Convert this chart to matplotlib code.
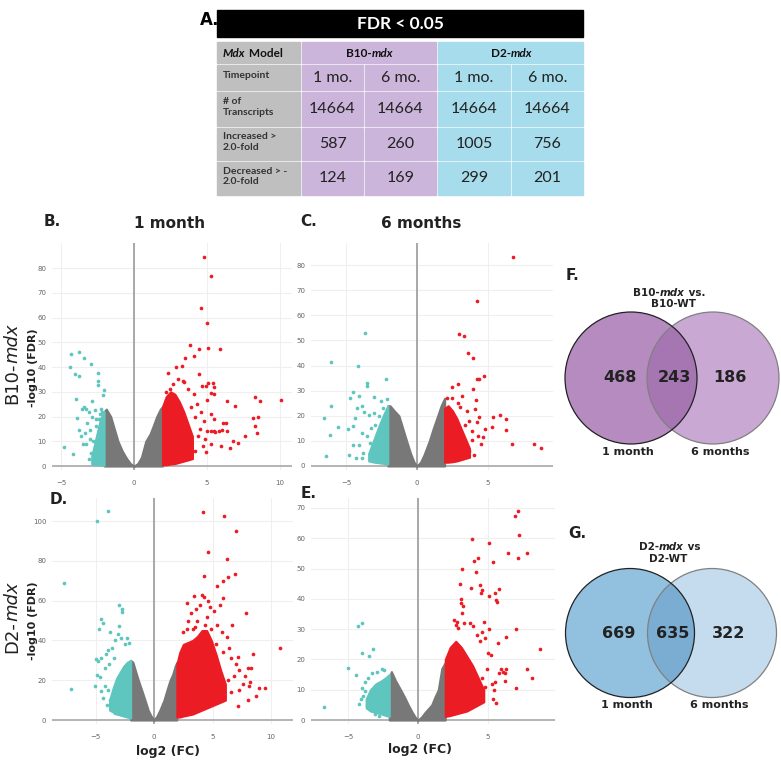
import matplotlib.pyplot as plt
from matplotlib.patches import Rectangle, Circle

W, H = 781, 767

# ================== DATA ==================

# panel A table
TABLE_TITLE = "FDR < 0.05"
TIMEPOINTS = ["1 mo.", "6 mo.", "1 mo.", "6 mo."]
ROW_LABELS = ["Timepoint", "# of\nTranscripts", "Increased >\n2.0-fold", "Decreased > -\n2.0-fold"]
N_TRANSCRIPTS = [14664, 14664, 14664, 14664]
N_INCREASED = [587, 260, 1005, 756]
N_DECREASED = [124, 169, 299, 201]

# venn counts: only 1 month, both, only 6 months
VENN_B10 = [468, 243, 186]
VENN_D2 = [669, 635, 322]

# volcano B: B10-mdx, 1 month
B_GRAY_X = [-2.05, -1.9, -1.6, -1.3, -1.1, -0.8, -0.5, -0.25, 0, 0.25, 0.5, 0.8, 1.1, 1.3, 1.55, 1.8, 1.95]
B_GRAY_TOP = [22, 23, 20, 14, 10, 6, 3, 1, 0, 1, 3.5, 10, 13, 16, 20, 23, 24]
B_TEAL_CORE_X = [-2.9, -2.7, -2.5, -2.3, -2.05]
B_TEAL_CORE_TOP = [4, 9, 14, 19, 22]
B_TEAL_CORE_BOT = [0.8, 0.6, 0.5, 0.4, 0.3]
B_RED_CORE_X = [1.95, 2.2, 2.5, 2.8, 3.1, 3.4, 3.7, 4.0]
B_RED_CORE_TOP = [24, 28, 30, 29, 26, 22, 17, 12]
B_RED_CORE_BOT = [0.5, 0.5, 0.8, 1.0, 1.5, 2.0, 2.5, 3.0]
B_TEAL_X = [-4.34, -3.75, -3.45, -4.38, -2.97, -4.02, -3.79, -2.47, -2.44, -2.49, -2.08, -2.1, -3.95, -2.88,
            -3.4, -3.55, -3.3, -3.93, -3.1, -2.9, -2.6, -2.4, -3.8, -3.6, -3.35, -2.6, -2.3, -3.0, -2.8,
            -4.77, -4.2, -3.3, -2.93, -2.7, -3.1, -2.25, -2.2, -2.35, -3.2, -2.7, -3.5, -3.05, -2.5]
B_TEAL_Y = [45.4, 45.9, 43.5, 40.1, 41.2, 37.2, 36.4, 37.6, 34.2, 32.7, 30.7, 28.5, 27.1, 26.1,
            24, 23, 23, 19.5, 22, 20, 19, 19, 14.5, 12.1, 13.5, 16, 15, 11, 10,
            7.8, 4.7, 8.8, 5.3, 6.5, 3, 23, 22, 21, 17.5, 22.5, 9, 14.5, 12]
B_RED_X = [4.8, 5.25, 4.6, 5.0, 3.8, 4.47, 5.07, 5.9, 3.5, 4.1, 2.85, 3.3, 2.35, 4.43, 3.33, 3.45, 5.07,
           5.43, 4.66, 4.9, 5.45, 2.49, 5.25, 5.45, 5.0, 6.37, 8.27, 8.65, 10.05, 6.94, 8.15, 8.5, 8.3,
           8.4, 6.3, 6.0, 5.0, 5.25, 5.5, 5.8, 6.4, 7.6, 7.1, 6.76, 4.86, 6.57, 5.96, 5.27, 4.9, 3.6,
           4.3, 4.6, 4.2, 4.8, 4.5, 3.9, 4.1, 3.7, 2.7, 3.0, 2.2, 4.4, 4.7, 4.2, 5.3, 5.5, 5.55, 6.07]
B_RED_Y = [84.6, 76.8, 63.7, 57.9, 49, 47.4, 47.5, 47.3, 43.8, 44.6, 40, 40.4, 37.6, 37.3, 34.2, 34, 33.7,
           33.4, 32.3, 32.3, 32, 31.2, 29.4, 29.2, 26.7, 26.1, 27.7, 26.1, 26.5, 24.1, 19.3, 19.8, 16,
           13.3, 17.5, 14.4, 14, 14.2, 14, 14.3, 14, 12, 9.4, 10.2, 10.9, 7.1, 8.1, 8.9, 5.8, 2.7,
           25, 22, 20, 18, 15, 24, 29, 31, 33, 35, 30, 12, 8, 6, 21, 19, 13.9, 17.5]

# volcano C: B10-mdx, 6 months
C_GRAY_X = [-2.05, -1.9, -1.6, -1.27, -1.0, -0.73, -0.45, -0.2, 0, 0.25, 0.5, 0.87, 1.15, 1.46, 1.7, 1.95]
C_GRAY_TOP = [24, 24, 22, 20, 15, 10, 5, 1.5, 0, 1.5, 4.5, 10, 15, 20, 24, 27]
C_TEAL_CORE_X = [-3.4, -3.0, -2.6, -2.3, -2.05]
C_TEAL_CORE_TOP = [5, 11, 17, 21, 24]
C_TEAL_CORE_BOT = [2.0, 1.5, 1.2, 1.0, 0.8]
C_RED_CORE_X = [1.95, 2.2, 2.5, 2.8, 3.1, 3.4, 3.7]
C_RED_CORE_TOP = [23, 24, 22, 19, 15, 11, 7]
C_RED_CORE_BOT = [1.5, 1.5, 1.7, 2, 2.5, 3, 3.5]
C_TEAL_X = [-3.66, -6.08, -4.15, -3.5, -3.55, -2.18, -4.53, -4.08, -6.08, -4.7, -3.0, -2.5, -2.1, -6.57,
            -5.54, -6.13, -4.88, -4.53, -4.35, -4.2, -3.85, -3.7, -3.35, -3.0, -2.7, -2.4, -4.53, -4.08,
            -3.85, -3.55, -3.25, -2.95, -6.43, -4.79, -4.3, -3.9, -3.8, -3.3, -2.8, -2.4]
C_TEAL_Y = [53.1, 41.3, 40, 33, 32, 34.7, 29.5, 27.9, 24, 27, 27.5, 26, 26.5, 19,
            15.4, 12.2, 14.6, 16, 19, 23, 24, 21.5, 20.5, 21, 20, 23, 8.5, 8.3,
            13, 12, 15, 16.5, 4.0, 4.4, 3.3, 3.2, 5.3, 9, 12, 16]
C_RED_X = [6.76, 4.25, 2.96, 3.31, 3.59, 3.92, 4.72, 4.25, 4.4, 2.44, 2.91, 3.97, 2.1, 2.5, 3.2, 2.9,
           4.13, 5.33, 5.85, 6.27, 6.3, 5.26, 4.79, 6.71, 8.24, 8.71, 4.5, 4.62, 4.2, 4.4, 3.7, 3.5,
           3.9, 4.3, 3.9, 3.4, 3.0, 4.1, 3.7, 4.0]
C_RED_Y = [83.4, 65.9, 52.5, 51.8, 45.1, 43, 35.9, 34.7, 34.7, 31.4, 32.7, 30.6, 27.2, 27, 28, 25,
           26.2, 19.6, 20.3, 18.6, 14.3, 15.4, 14.6, 8.6, 8.6, 7.1, 8.6, 11.7, 17.5, 19.5, 18, 22,
           14, 12, 10.5, 16.5, 23.5, 22.5, 6, 4.5]

# volcano D: D2-mdx, 1 month
D_GRAY_X = [-2.0, -1.8, -1.6, -1.34, -1.05, -0.77, -0.5, -0.25, 0, 0.25, 0.5, 0.85, 1.1, 1.37, 1.6, 1.8, 1.95]
D_GRAY_TOP = [30, 29, 25, 20, 15, 10, 5, 2, 0, 2, 5, 10, 15, 20, 23, 27, 29]
D_TEAL_CORE_X = [-3.8, -3.5, -3.2, -2.9, -2.6, -2.3, -2.0]
D_TEAL_CORE_TOP = [10, 16, 21, 24, 27, 29, 30]
D_TEAL_CORE_BOT = [5, 4, 3, 2.5, 2, 1.5, 1]
D_RED_CORE_X = [1.95, 2.2, 2.5, 2.9, 3.3, 3.7, 4.1, 4.5, 4.9, 5.3, 5.7, 6.1]
D_RED_CORE_TOP = [28, 34, 38, 39, 40, 42, 45, 45, 40, 33, 25, 18]
D_RED_CORE_BOT = [1.5, 1.5, 2, 2.5, 3, 4, 5, 6, 7, 8, 9, 10]
D_TEAL_X = [-3.96, -4.87, -7.66, -7.07, -2.99, -2.7, -2.75, -4.53, -4.4, -4.67, -3.75, -3.0, -3.1, -2.85,
            -2.3, -2.45, -2.1, -3.3, -3.9, -4.1, -3.6, -3.4, -5.0, -4.8, -4.5, -4.15, -3.85, -4.9, -4.6,
            -5.05, -4.2, -3.95, -4.5, -3.75, -4.0, -3.6, -3.3, -4.4, -3.5, -3.2]
D_TEAL_Y = [105, 100.2, 68.7, 15.4, 57.8, 56, 54.5, 50.7, 49, 45.7, 44, 47.5, 43, 41,
            41, 38, 38.5, 40, 35, 33, 36, 31, 30.5, 29.5, 31, 26, 28, 22.5, 21.5,
            17, 17, 15, 14.5, 10, 7.5, 5.5, 3.5, 11, 12.5, 9]
D_RED_X = [4.19, 6.01, 6.98, 4.62, 6.21, 4.25, 6.35, 6.92, 5.92, 5.38, 7.84, 3.42, 2.79, 5.92, 6.69, 6.21,
           8.49, 7.2, 10.8, 6.55, 8.06, 8.3, 7.3, 8.2, 9.0, 9.45, 8.1, 8.7, 8.0, 7.15, 6.6, 7.3, 6.0, 5.5,
           4.1, 4.3, 4.6, 4.8, 3.9, 3.6, 3.2, 2.9, 4.5, 5.1, 5.6, 4.4, 3.7, 3.3, 4.9, 5.4, 2.5, 2.8, 3.5,
           4.2, 5.8, 5.3, 6.4, 5.9, 7.0, 6.8, 6.3, 7.6, 7.8]
D_RED_Y = [104.5, 102.4, 95, 84.6, 80.9, 72.4, 72, 73.2, 70, 67.3, 53.8, 62.5, 59, 61.5, 47.7, 41.9,
           33, 31.8, 36, 31, 26, 26, 25, 19.3, 16, 16, 17, 12, 10, 7, 14, 15, 12, 9,
           63, 62, 60, 57, 58, 56, 54, 50, 52, 55, 58, 48, 50, 46, 46, 48, 44, 46, 47,
           44, 44, 38, 36, 34, 28, 22, 20, 18, 22]

# volcano E: D2-mdx, 6 months
E_GRAY_X = [-2.05, -1.9, -1.6, -1.24, -0.95, -0.69, -0.4, -0.2, 0, 0.25, 0.5, 0.98, 1.2, 1.45, 1.7, 1.95]
E_GRAY_TOP = [14, 16, 13, 10, 7.5, 5, 2.5, 1, 0, 1, 2.5, 5, 7.5, 10, 17, 19]
E_TEAL_CORE_X = [-3.7, -3.4, -3.0, -2.6, -2.3, -2.05]
E_TEAL_CORE_TOP = [7, 10, 12, 13, 14, 15]
E_TEAL_CORE_BOT = [4, 3, 2.5, 2, 1.5, 1.2]
E_RED_CORE_X = [1.95, 2.3, 2.7, 3.1, 3.5, 3.9, 4.3, 4.7]
E_RED_CORE_TOP = [20, 24, 26, 24, 21, 18, 14, 10]
E_RED_CORE_BOT = [1.2, 1.5, 2, 2.5, 3, 4, 5, 6]
E_TEAL_X = [-3.98, -4.26, -3.98, -3.24, -3.5, -4.98, -4.43, -6.74, -4.21, -4.0, -3.9, -3.8, -3.6, -3.3,
            -2.9, -2.6, -2.4, -3.65, -3.4, -3.1, -2.8, -4.1, -3.75]
E_TEAL_Y = [32.1, 31.1, 22, 23.4, 21, 17.3, 14.9, 4.4, 5.2, 10.5, 8, 12.5, 14, 15.5,
            16, 17, 16.5, 5, 3.5, 2, 1.5, 7, 9.5]
E_RED_X = [7.14, 6.95, 7.19, 3.88, 5.05, 6.4, 7.79, 7.14, 4.29, 4.0, 5.38, 3.12, 4.14, 3.0, 3.8, 4.4, 4.6,
           4.5, 5.79, 5.1, 5.5, 5.6, 5.65, 3.05, 3.1, 3.2, 3.15, 2.6, 2.8, 2.7, 2.85, 3.3, 3.7, 3.95, 4.7,
           4.2, 4.6, 5.1, 4.4, 4.8, 7.0, 5.74, 6.26, 8.69, 5.0, 5.2, 5.9, 6.1, 6.3, 6.2, 5.8, 7.79, 8.12,
           7.0, 6.21, 5.57, 5.38, 4.8, 5.3, 5.4, 4.6, 4.9, 5.5]
E_RED_Y = [69.1, 67.5, 61.1, 59.8, 58.6, 55.3, 55.3, 53.5, 53.6, 52.6, 52.3, 49.8, 49, 44.8, 43.5, 44.5, 43,
           42, 43.2, 41, 42, 39.5, 39, 40, 38.5, 37.5, 35.5, 33, 32.5, 31.5, 30.5, 32, 32, 31, 32.5,
           28, 29, 30, 26, 27, 30.1, 25.6, 27.4, 23.3, 22.3, 21.5, 17, 16, 17, 15.5, 15.5, 16.7, 13.9,
           10.7, 12.9, 5.5, 6.8, 11, 12, 10, 14, 17, 12.5]

# ================== STYLE ==================

RED = "#ec1c24"
TEAL = "#5ec5bf"
GRAY = "#787878"
TABLE_FONT = "Lato"
PLOT_FONT = "DejaVu Sans"

fig = plt.figure(figsize=(W / 100, H / 100), dpi=100)
fig.patch.set_facecolor("white")

# overlay axes in pixel coordinates (origin top-left)
ax0 = fig.add_axes([0, 0, 1, 1])
ax0.set_xlim(0, W)
ax0.set_ylim(H, 0)
ax0.axis("off")


def rich(ax, x, y, parts, size, color="#111", rotation=0, ha="left", **kw):
    """Write text pieces one after the other; parts = [(text, italic), ...]."""
    first, it = parts[0]
    t = ax.text(x, y, first, fontsize=size, color=color, style="italic" if it else "normal",
                rotation=rotation, ha=ha, va="baseline" if rotation == 0 else "bottom", **kw)
    for txt, it in parts[1:]:
        if rotation == 0:
            t = ax.annotate(txt, xy=(1, 0), xycoords=t, fontsize=size, color=color,
                            style="italic" if it else "normal", ha="left", va="bottom", **kw)
        else:
            t = ax.annotate(txt, xy=(0.5, 1), xycoords=t, fontsize=size, color=color, rotation=rotation,
                            style="italic" if it else "normal", ha="center", va="bottom", **kw)
    return t


# ================== TABLE (A) ==================

ax0.text(200, 20, "A.", fontsize=12, fontweight="bold", family=PLOT_FONT, ha="left", va="center")

COLS = [(217, 300), (302, 363), (365, 436), (438, 510), (512, 583)]
ROWS = [(42, 63), (65, 90), (92, 126), (128, 160), (162, 195)]
LABEL_BG = "#bfbfbf"
B10_BG = "#ccb5da"
D2_BG = "#a6dceb"
col_bg = [B10_BG, B10_BG, D2_BG, D2_BG]

ax0.add_patch(Rectangle((217, 10), 583 - 217, 27, color="black"))
ax0.text(400, 24, TABLE_TITLE, color="white", fontsize=12.5, fontweight="bold", family=TABLE_FONT,
         ha="center", va="center")

# header row
ax0.add_patch(Rectangle((217, 42), 83, 21, color=LABEL_BG))
ax0.add_patch(Rectangle((302, 42), 134, 21, color=B10_BG))
ax0.add_patch(Rectangle((438, 42), 145, 21, color=D2_BG))
rich(ax0, 223, 57, [("Mdx", True), (" Model", False)], 8.5, fontweight="bold", family=TABLE_FONT)
rich(ax0, 372, 57, [("B10-", False), ("mdx", True)], 8.5, fontweight="bold", family=TABLE_FONT,
     ha="right")
rich(ax0, 511, 57, [("D2-", False), ("mdx", True)], 8.5, fontweight="bold", family=TABLE_FONT,
     ha="right")

row_values = [TIMEPOINTS, N_TRANSCRIPTS, N_INCREASED, N_DECREASED]
for (y0, y1), label, vals in zip(ROWS[1:], ROW_LABELS, row_values):
    ax0.add_patch(Rectangle((217, y0), 83, y1 - y0, color=LABEL_BG))
    ax0.text(223, (y0 + y1) / 2 - 2, label, fontsize=7.5, fontweight="bold", family=TABLE_FONT,
             color="#333", ha="left", va="center", linespacing=1.15)
    for (x0, x1), bg, v in zip(COLS[1:], col_bg, vals):
        ax0.add_patch(Rectangle((x0, y0), x1 - x0, y1 - y0, color=bg))
        ax0.text((x0 + x1) / 2, (y0 + y1) / 2, str(v), fontsize=11.5, family=TABLE_FONT,
                 color="#222", ha="center", va="center")


# ================== VOLCANO PLOTS ==================

def volcano(rect, xlim, ylim, xticks, yticks, gray, teal_core, red_core, teal_pts, red_pts):
    l, t, r, b = rect
    ax = fig.add_axes([l / W, 1 - b / H, (r - l) / W, (b - t) / H])
    ax.set_xlim(*xlim)
    ax.set_ylim(*ylim)
    ax.set_xticks(xticks)
    ax.set_yticks(yticks)
    ax.grid(color="#efefef", lw=0.8)
    ax.set_axisbelow(True)
    for s in ax.spines.values():
        s.set_visible(False)
    ax.tick_params(length=0, labelsize=5, labelcolor="#666")
    ax.tick_params(axis="x", pad=7)
    ax.tick_params(axis="y", pad=4)
    ax.axhline(0, color="#b4b4b4", lw=1.4, zorder=1)
    ax.axvline(0, color="#a8a8a8", lw=1.4, zorder=1)
    ax.patch.set_alpha(0)

    gx, gtop = gray
    ax.fill_between(gx, 0, gtop, color=GRAY, lw=1.5, zorder=2)
    tx, ttop, tbot = teal_core
    ax.fill_between(tx, tbot, ttop, color=TEAL, lw=1.5, zorder=2)
    rx, rtop, rbot = red_core
    ax.fill_between(rx, rbot, rtop, color=RED, lw=1.5, zorder=2)
    ax.scatter(*teal_pts, s=7, color=TEAL, lw=0, zorder=3)
    ax.scatter(*red_pts, s=7, color=RED, lw=0, zorder=3)
    return ax


volcano((52, 243, 292, 470), (-5.62, 10.82), (-1.6, 90.1), [-5, 0, 5, 10], range(0, 81, 10),
        (B_GRAY_X, B_GRAY_TOP), (B_TEAL_CORE_X, B_TEAL_CORE_TOP, B_TEAL_CORE_BOT),
        (B_RED_CORE_X, B_RED_CORE_TOP, B_RED_CORE_BOT), (B_TEAL_X, B_TEAL_Y), (B_RED_X, B_RED_Y))
volcano((311, 243, 553, 470), (-7.46, 9.58), (-1.6, 88.8), [-5, 0, 5], range(0, 81, 10),
        (C_GRAY_X, C_GRAY_TOP), (C_TEAL_CORE_X, C_TEAL_CORE_TOP, C_TEAL_CORE_BOT),
        (C_RED_CORE_X, C_RED_CORE_TOP, C_RED_CORE_BOT), (C_TEAL_X, C_TEAL_Y), (C_RED_X, C_RED_Y))
volcano((52, 498, 293, 724), (-8.72, 11.88), (-2.0, 111.6), [-5, 0, 5, 10], range(0, 101, 20),
        (D_GRAY_X, D_GRAY_TOP), (D_TEAL_CORE_X, D_TEAL_CORE_TOP, D_TEAL_CORE_BOT),
        (D_RED_CORE_X, D_RED_CORE_TOP, D_RED_CORE_BOT), (D_TEAL_X, D_TEAL_Y), (D_RED_X, D_RED_Y))
volcano((311, 498, 555, 724), (-7.64, 9.79), (-1.3, 73.3), [-5, 0, 5], range(0, 71, 10),
        (E_GRAY_X, E_GRAY_TOP), (E_TEAL_CORE_X, E_TEAL_CORE_TOP, E_TEAL_CORE_BOT),
        (E_RED_CORE_X, E_RED_CORE_TOP, E_RED_CORE_BOT), (E_TEAL_X, E_TEAL_Y), (E_RED_X, E_RED_Y))

# panel letters and titles
for x, y, s in [(44, 222, "B."), (300, 222, "C."), (50, 500, "D."), (301, 494, "E.")]:
    ax0.text(x, y, s, fontsize=11, fontweight="bold", family=PLOT_FONT, color="#222", va="center")
ax0.text(170, 223, "1 month", fontsize=11, fontweight="bold", family=PLOT_FONT, color="#222",
         ha="center", va="center")
ax0.text(421, 223, "6 months", fontsize=11, fontweight="bold", family=PLOT_FONT, color="#222",
         ha="center", va="center")
ax0.text(168, 751, "log2 (FC)", fontsize=9, fontweight="bold", family=PLOT_FONT, color="#222",
         ha="center", va="center")
ax0.text(420, 749, "log2 (FC)", fontsize=9, fontweight="bold", family=PLOT_FONT, color="#222",
         ha="center", va="center")
for yc in (368, 621):
    ax0.text(33, yc, "-log10 (FDR)", fontsize=8, fontweight="bold", family=PLOT_FONT, color="#222",
             rotation=90, ha="center", va="center")
rich(ax0, 12, 404, [("B10-", False), ("mdx", True)], 13, color="#222", rotation=90, ha="center",
     family=PLOT_FONT)
rich(ax0, 12, 653, [("D2-", False), ("mdx", True)], 13, color="#222", rotation=90, ha="center",
     family=PLOT_FONT)


# ================== VENN DIAGRAMS ==================

def venn(cx_left, cx_right, cy, r, counts, c_left, c_mid, c_right):
    left = Circle((cx_left, cy), r, facecolor=c_left, edgecolor="none")
    right = Circle((cx_right, cy), r, facecolor=c_right, edgecolor="none")
    ax0.add_patch(left)
    ax0.add_patch(right)
    lens = Circle((cx_left, cy), r, facecolor=c_mid, edgecolor="none")
    ax0.add_patch(lens)
    lens.set_clip_path(right)
    ax0.add_patch(Circle((cx_right, cy), r, facecolor="none", edgecolor="#808080", lw=0.9))
    ax0.add_patch(Circle((cx_left, cy), r, facecolor="none", edgecolor="#222", lw=0.9))
    xs = [cx_left - r * 0.17, (cx_left + cx_right) / 2 + 2, cx_right + r * 0.26]
    for x, n in zip(xs, counts):
        ax0.text(x, cy, str(n), fontsize=11.5, fontweight="bold", family=PLOT_FONT, color="#222",
                 ha="center", va="center")
    ax0.text(cx_left - 3, cy + r + 8, "1 month", fontsize=8, fontweight="bold", family=PLOT_FONT,
             color="#222", ha="center", va="center")
    ax0.text(cx_right + 7, cy + r + 8, "6 months", fontsize=8, fontweight="bold", family=PLOT_FONT,
             color="#222", ha="center", va="center")


venn(631, 713, 378, 66, VENN_B10, "#b58bc0", "#a676b2", "#c9a8d4")
venn(630, 712, 633, 64.5, VENN_D2, "#92c0df", "#7badd2", "#c5dcee")

ax0.text(566, 275, "F.", fontsize=11, fontweight="bold", family=PLOT_FONT, color="#222", va="center")
ax0.text(568, 533, "G.", fontsize=11, fontweight="bold", family=PLOT_FONT, color="#222", va="center")
rich(ax0, 660, 296, [("B10-", False), ("mdx", True), (" vs.", False)], 7.5, color="#222",
     fontweight="bold", family=PLOT_FONT, ha="right")
ax0.text(673, 307, "B10-WT", fontsize=7.5, fontweight="bold", family=PLOT_FONT, color="#222",
         ha="center", va="baseline")
rich(ax0, 659, 550, [("D2-", False), ("mdx", True), (" vs", False)], 7.5, color="#222",
     fontweight="bold", family=PLOT_FONT, ha="right")
ax0.text(668, 562, "D2-WT", fontsize=7.5, fontweight="bold", family=PLOT_FONT, color="#222",
         ha="center", va="baseline")

fig.savefig("out.png", dpi=100)
